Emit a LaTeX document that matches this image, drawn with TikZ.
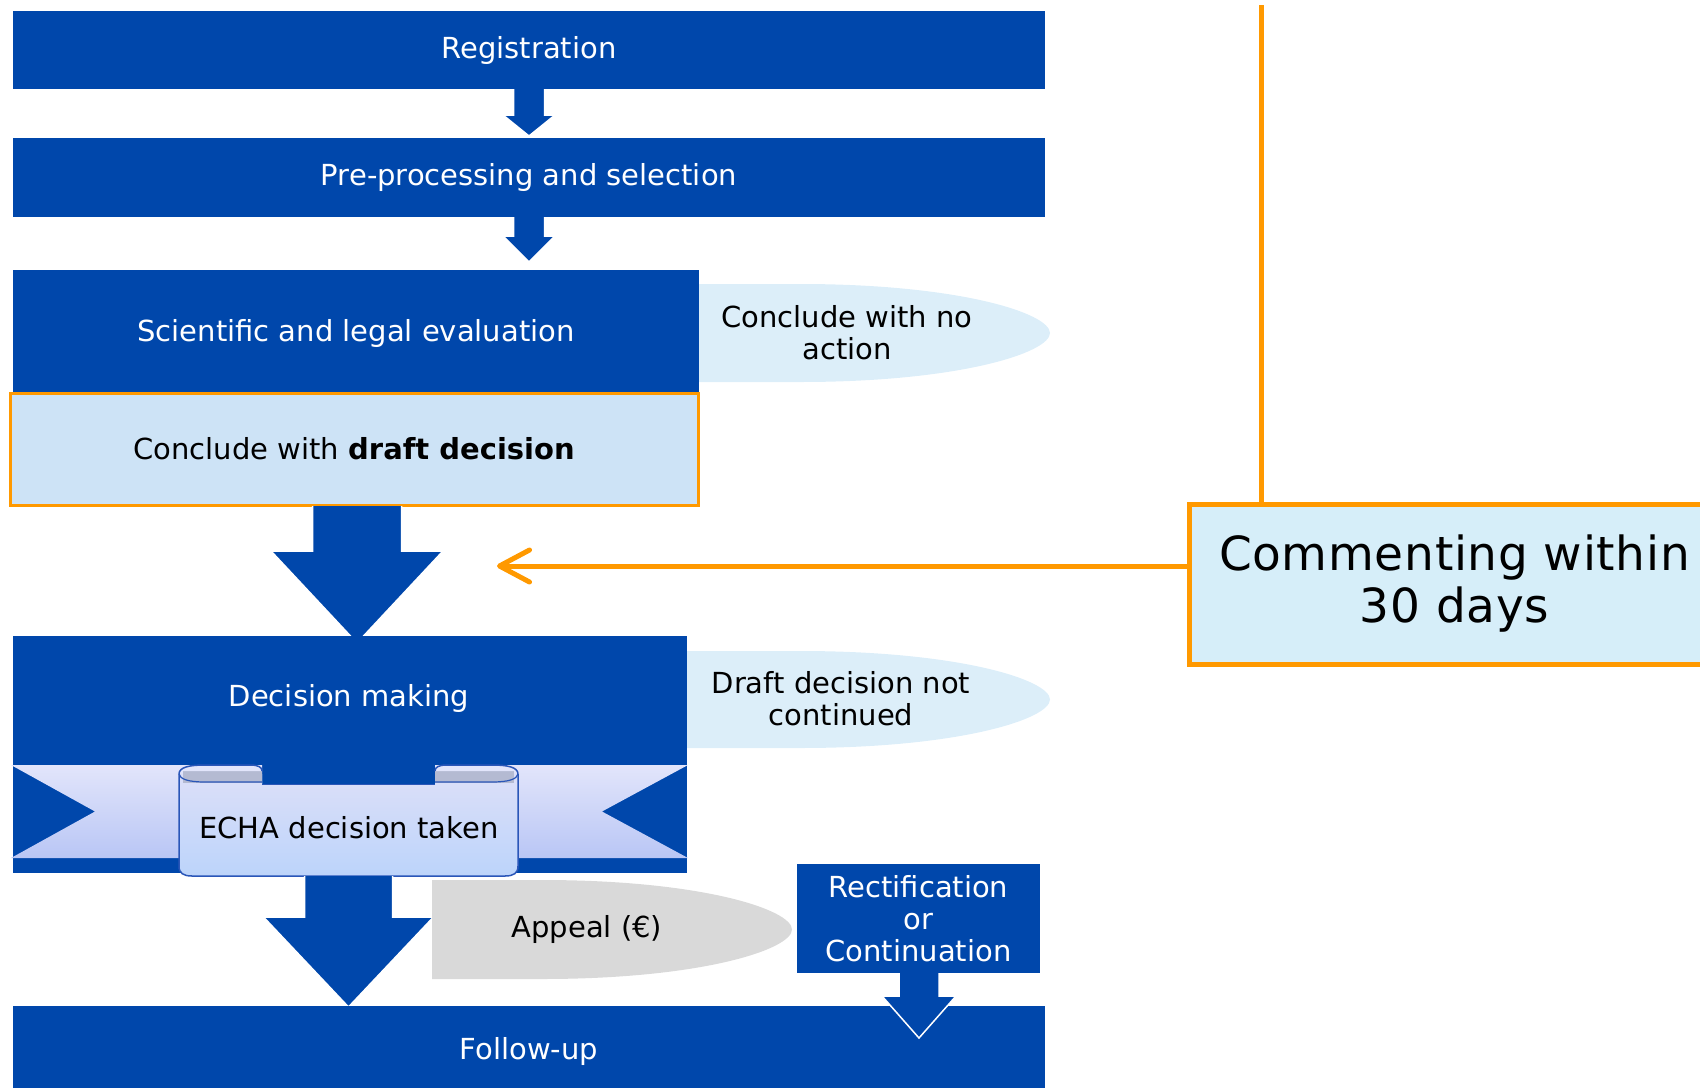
\documentclass[tikz,border=0pt]{standalone}
\usepackage{fontspec}
\setmainfont{DejaVu Sans}
\newfontfamily\widefont[LetterSpace=1.5]{DejaVu Sans}
\usetikzlibrary{arrows.meta}

\definecolor{ecblue}{HTML}{0047AB}
\definecolor{paleblue}{HTML}{DCEEF9}
\definecolor{draftfill}{HTML}{CDE3F6}
\definecolor{cmtfill}{HTML}{D6EEF9}
\definecolor{orng}{HTML}{FF9900}
\definecolor{appealgray}{HTML}{D9D9D9}
\definecolor{ribtop}{HTML}{E2E5FB}
\definecolor{ribbot}{HTML}{B9C6F5}
\definecolor{paneltop}{HTML}{DCDFF9}
\definecolor{panelbot}{HTML}{BCD4FA}
\definecolor{ribedge}{HTML}{2A56B8}
\definecolor{curlgray}{HTML}{B4BAD2}

\newcommand\flowfont{\fontsize{29}{32}\selectfont}
\newcommand\bigflowfont{\widefont\fontsize{47}{52}\selectfont}

% block arrow: centre x, top y, neck y, tip y, half stem width, half head width
\newcommand\blockarrow[6]{%
  \fill[ecblue] ({#1-#5},#2) -- ({#1-#5},#3) -- ({#1-#6},#3) -- (#1,#4)
    -- ({#1+#6},#3) -- ({#1+#5},#3) -- ({#1+#5},#2) -- cycle;
  \draw[white, line width=1.5pt, line join=miter] ({#1-#5},#2) -- ({#1-#5},#3)
    -- ({#1-#6},#3) -- (#1,#4) -- ({#1+#6},#3) -- ({#1+#5},#3) -- ({#1+#5},#2);
}
% box with a flat left part and a tapered, rounded right end
% #1 fill, #2 left x, #3 top y, #4 bottom y, #5 right x
\newcommand\delayshape[5]{%
  \pgfmathsetmacro\dyc{(#3+#4)/2}%
  \pgfmathsetmacro\dry{(#4-#3)/2}%
  \fill[#1] (#2,#3) -- ({#5-250},#3)
    .. controls ({#5-90},#3) and (#5,{#3+0.6*\dry}) .. (#5,\dyc)
    .. controls (#5,{#4-0.6*\dry}) and ({#5-90},#4) .. ({#5-250},#4)
    -- (#2,#4) -- cycle;
}

\begin{document}
\begin{tikzpicture}[x=1pt,y=-1pt,
  bar/.style={fill=ecblue, draw=none, inner sep=0pt, text=white, font=\flowfont, align=center},
  whitetext/.style={text=white, font=\flowfont, align=center, inner sep=0pt},
  darktext/.style={text=black, font=\flowfont, align=center, inner sep=0pt},
  orangeline/.style={draw=orng, line width=5pt}
]
\useasboundingbox (0,0) rectangle (1700,1087);
\clip (0,0) rectangle (1700,1087);

% side results
\delayshape{paleblue}{690}{284}{382}{1050}
\node[darktext] (noaction) at (847,333) {Conclude with no\\action};
\delayshape{paleblue}{682}{651}{748}{1050}
\node[darktext] (notcont) at (841,699) {Draft decision not\\continued};

% main steps
\node[bar, minimum width=1032pt, minimum height=78pt] (reg) at (529,50) {Registration};
\node[bar, minimum width=1032pt, minimum height=79pt] (pre) at (529,177.5) {Pre-processing and selection};
\node[bar, minimum width=686pt, minimum height=122pt] (sci) at (356,331) {};
\node[whitetext] (scitxt) at (356,333) {Scientific and legal evaluation};
\node[fill=draftfill, draw=orng, line width=3pt, minimum width=688pt, minimum height=112pt,
      inner sep=0pt, font=\flowfont] (draft) at (354,449) {Conclude with \textbf{draft decision}};

\blockarrow{529}{89}{115}{136}{15.5}{26}
\blockarrow{529}{217}{236}{262}{15.5}{26}
\blockarrow{357}{506}{551}{643}{44.5}{86}

\node[bar, minimum width=674pt, minimum height=237pt] (dec) at (350,754.5) {};
\node[whitetext] (dectxt) at (349,698) {Decision making};

% ribbon: tails
\shade[top color=ribtop, bottom color=ribbot] (11,765) -- (262,765) -- (262,858) -- (11,858) -- (95,811.5) -- cycle;
\shade[top color=ribtop, bottom color=ribbot] (688,765) -- (435,765) -- (435,858) -- (688,858) -- (602,811.5) -- cycle;

% ribbon: front panel
\shade[top color=paneltop, bottom color=panelbot] (179,774) -- (179,866)
  .. controls (179,873) and (183,876) .. (192,876) -- (505,876)
  .. controls (514,876) and (518,873) .. (518,866) -- (518,774) -- (435,774)
  -- (435,784) -- (262,784) -- (262,774) -- cycle;
\draw[ribedge, line width=1.5pt] (179,774) -- (179,866)
  .. controls (179,873) and (183,876) .. (192,876) -- (505,876)
  .. controls (514,876) and (518,873) .. (518,866) -- (518,774);
\draw[ribedge, line width=1pt] (262,784) -- (435,784);

% ribbon: rolled ends
\fill[curlgray] (183,771) rectangle (262,783);
\fill[curlgray] (435,771) rectangle (514,783);
\fill[ribtop] (179,774) .. controls (179,767) and (190,765) .. (205,765) -- (250,765)
  .. controls (258,765) and (262,767) .. (262,771) -- (183,771) -- cycle;
\fill[ribtop] (518,774) .. controls (518,767) and (507,765) .. (492,765) -- (447,765)
  .. controls (439,765) and (435,767) .. (435,771) -- (514,771) -- cycle;
\draw[ribedge, line width=1.5pt] (179,774) .. controls (179,767) and (190,765) .. (205,765) -- (250,765)
  .. controls (258,765) and (262,767) .. (262,771);
\draw[ribedge, line width=1.2pt] (179,774) .. controls (180,779) and (188,782) .. (205,782) -- (262,782);
\draw[ribedge, line width=1.5pt] (518,774) .. controls (518,767) and (507,765) .. (492,765) -- (447,765)
  .. controls (439,765) and (435,767) .. (435,771);
\draw[ribedge, line width=1.2pt] (518,774) .. controls (517,779) and (509,782) .. (492,782) -- (435,782);
\node[darktext] (taken) at (349,828) {ECHA decision taken};

% after the decision
\blockarrow{348.5}{876}{917}{1007}{44}{85}
\delayshape{appealgray}{432}{880}{979}{792}
\node[darktext] (appeal) at (587,929) {Appeal (€)};
\node[bar, minimum width=243pt, minimum height=109pt] (rect) at (918.5,918.5)
  {Rectification\\or\\Continuation};
\node[bar, minimum width=1032pt, minimum height=90pt] (follow) at (529,1051) {Follow-up};
\blockarrow{919}{973}{996}{1038}{20}{37}

% commenting phase
\node[fill=cmtfill, draw=orng, line width=5pt, minimum width=531pt, minimum height=160pt,
      inner sep=0pt, font=\bigflowfont, align=center] (cmt) at (1454.5,584) {Commenting within\\30 days};
\coordinate (cmtin) at (497,566);
\coordinate (cmttop) at (1261,5);
\draw[orangeline, line cap=round, -{Straight Barb[length=30pt, width=32pt, round]}] (cmt.west |- cmtin) -- (cmtin);
\draw[orangeline] (cmt.north -| cmttop) -- (cmttop);
\end{tikzpicture}
\end{document}
